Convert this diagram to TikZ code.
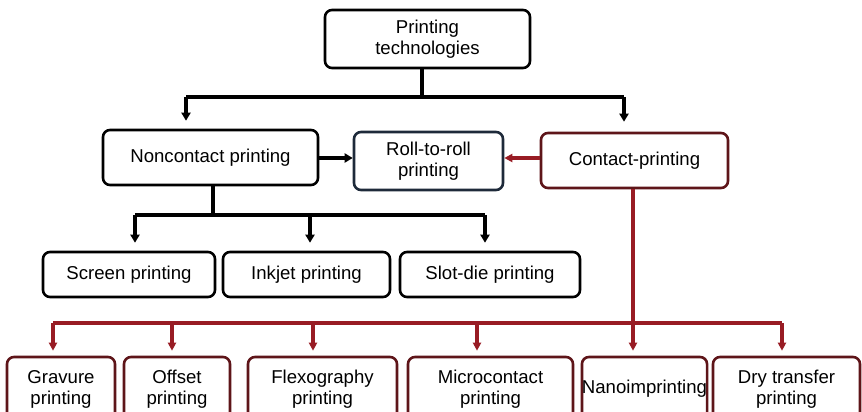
\documentclass[tikz,border=0pt]{standalone}
\usepackage{fontspec}
\setmainfont{Liberation Sans}
\usetikzlibrary{arrows.meta}
\definecolor{linered}{HTML}{981C24}
\definecolor{boxred}{HTML}{5E1519}
\definecolor{boxnavy}{HTML}{1E2A3A}
\tikzset{
  box/.style={draw=black, line width=2.6pt, rounded corners=7pt, align=center,
    inner sep=0pt, fill=white, font=\fontsize{18.6}{21}\selectfont},
  redbox/.style={box, draw=boxred},
  blkline/.style={line width=4pt},
  blk/.style={blkline, -{Triangle[width=9pt,length=8pt]}},
  redline/.style={line width=3.2pt, draw=linered},
  red/.style={redline, -{Triangle[width=8pt,length=8pt]}}
}
\begin{document}
\begin{tikzpicture}[x=1pt,y=-1pt]
  \useasboundingbox (0,0) rectangle (862,412);
  \clip (0,0) rectangle (862,412);
  % level 0 and 1
  \node[box, minimum width=205pt, minimum height=58pt] (top) at (427.5,39) {Printing\\technologies};
  \node[box, minimum width=215pt, minimum height=55pt] (noncontact) at (210.5,157.5) {Noncontact printing};
  \node[box, draw=boxnavy, minimum width=149pt, minimum height=58pt] (roll) at (428.5,161) {Roll-to-roll\\printing};
  \node[redbox, minimum width=187pt, minimum height=55pt] (contact) at (634.5,160.5) {Contact-printing};
  % noncontact row
  \node[box, minimum width=172pt, minimum height=45pt] (screen) at (129,274.5) {Screen printing};
  \node[box, minimum width=167pt, minimum height=45pt] (inkjet) at (306.5,274.5) {Inkjet printing};
  \node[box, minimum width=180pt, minimum height=45pt] (slotdie) at (490,274.5) {Slot-die printing};
  % contact row
  \node[redbox, minimum width=108pt, minimum height=64pt] (gravure) at (61,389) {Gravure\\printing};
  \node[redbox, minimum width=106pt, minimum height=64pt] (offset) at (177,389) {Offset\\printing};
  \node[redbox, minimum width=149pt, minimum height=64pt] (flexo) at (322.5,389) {Flexography\\printing};
  \node[redbox, minimum width=165pt, minimum height=64pt] (micro) at (490.5,389) {Microcontact\\printing};
  \node[redbox, minimum width=125pt, minimum height=64pt] (nano) at (644.5,389) {Nanoimprinting};
  \node[redbox, minimum width=147pt, minimum height=64pt] (dry) at (786.5,389) {Dry transfer\\printing};

  % top branch
  \coordinate (jt) at (422,97);
  \coordinate (jtl) at (186,97);
  \coordinate (jtr) at (624,97);
  \draw[blkline] (top.south -| jt) -- (jt);
  \draw[blkline] (jtl) -- (jtr);
  \draw[blk, shorten >=8pt] (jtl) -- (jtl |- noncontact.north);
  \draw[blk, shorten >=10pt] (jtr) -- (jtr |- contact.north);
  % into roll-to-roll
  \draw[blk] (noncontact.east |- 0,158) -- (roll.west |- 0,158);
  \draw[red] (contact.west |- 0,158) -- (roll.east |- 0,158);
  % noncontact branch
  \coordinate (jn) at (213,215);
  \coordinate (jnl) at (135,215);
  \coordinate (jnr) at (485,215);
  \draw[blkline] (noncontact.south -| jn) -- (jn);
  \draw[blkline] (jnl) -- (jnr);
  \foreach \x/\n in {135/screen,310/inkjet,485/slotdie}{
    \coordinate (d) at (\x,215);
    \draw[blk, shorten >=8pt] (d) -- (d |- \n.north);
  }
  % contact branch
  \coordinate (jc) at (633,323);
  \coordinate (jcl) at (53,323);
  \coordinate (jcr) at (782,323);
  \draw[redline] (contact.south -| jc) -- (jc);
  \draw[redline] (jcl) -- (jcr);
  \foreach \x/\n in {53/gravure,172/offset,313/flexo,477/micro,633/nano,782/dry}{
    \coordinate (d) at (\x,323);
    \draw[red, shorten >=5pt] (d) -- (d |- \n.north);
  }
\end{tikzpicture}
\end{document}
